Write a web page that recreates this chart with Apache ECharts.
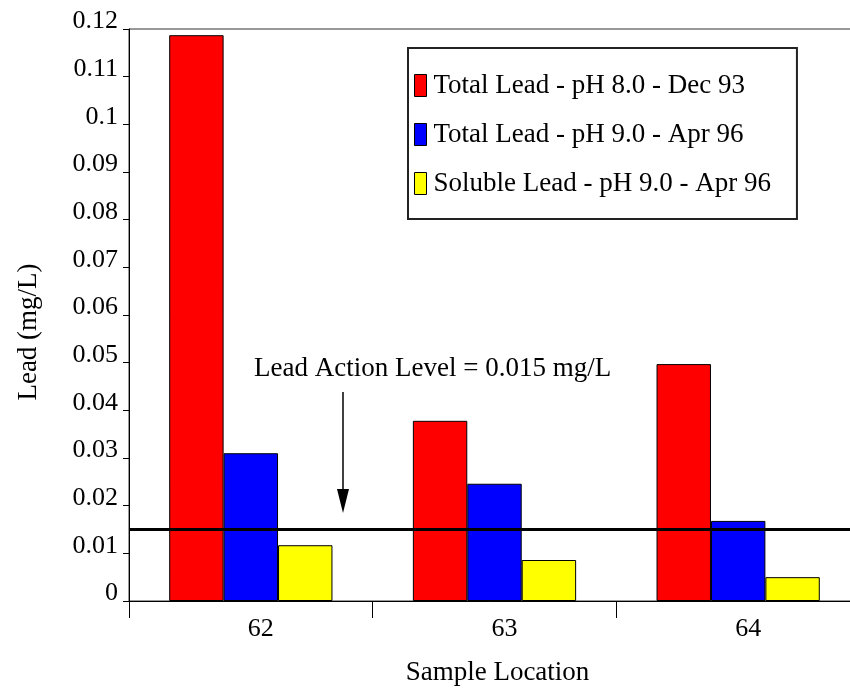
<!DOCTYPE html>
<html>
<head>
<meta charset="utf-8">
<script src="https://cdn.jsdelivr.net/npm/echarts@6/dist/echarts.min.js"></script>
<style>
html,body{margin:0;padding:0;background:#fff;}
#chart{width:850px;height:691px;}
</style>
</head>
<body>
<div id="chart"></div>
<script>
var categories = ['62', '63', '64'];
var seriesNames = ['Total Lead - pH 8.0 - Dec 93', 'Total Lead - pH 9.0 - Apr 96', 'Soluble Lead - pH 9.0 - Apr 96'];
var totalLeadDec93 = [0.1187, 0.0378, 0.0497];
var totalLeadApr96 = [0.0310, 0.0246, 0.0168];
var solubleLeadApr96 = [0.0117, 0.0086, 0.0050];
var actionLevel = 0.015;
var seriesColors = ['#ff0000', '#0000ff', '#ffff00'];

var FONT = 'Liberation Serif';
var chart = echarts.init(document.getElementById('chart'), null, {renderer: 'canvas'});

function barSeries(name, data, color, extra) {
  var s = {
    name: name,
    type: 'bar',
    data: data,
    barGap: '0%',
    barCategoryGap: '33%',
    itemStyle: {color: color, borderColor: '#000', borderWidth: 1},
    emphasis: {disabled: true}
  };
  if (extra) { for (var k in extra) s[k] = extra[k]; }
  return s;
}

var option = {
  animation: false,
  backgroundColor: '#fff',
  grid: {left: 129, top: 29, width: 731, bottom: 90, outerBoundsMode: 'none', containLabel: false, show: true, borderColor: '#333', borderWidth: 1},
  legend: {
    orient: 'vertical',
    left: 408,
    top: 48,
    padding: [24, 26, 22, 6],
    itemGap: 22,
    itemWidth: 12,
    itemHeight: 22,
    icon: 'rect',
    selectedMode: false,
    borderColor: '#222',
    borderWidth: 2,
    backgroundColor: '#fff',
    itemStyle: {borderColor: '#000', borderWidth: 1},
    textStyle: {fontFamily: FONT, fontSize: 27, color: '#000', lineHeight: 22, padding: [0, 0, 0, 2]},
    data: seriesNames
  },
  xAxis: {
    type: 'category',
    data: categories,
    name: 'Sample Location',
    nameLocation: 'middle',
    nameGap: 58,
    nameTextStyle: {fontFamily: FONT, fontSize: 27, color: '#000', padding: [0, 0, 0, 6]},
    axisLine: {lineStyle: {color: '#000', width: 1}},
    axisTick: {show: true, length: 17, inside: false, lineStyle: {color: '#000', width: 1}},
    axisLabel: {fontFamily: FONT, fontSize: 26, color: '#000', margin: 15, padding: [0, 0, 0, 20]},
    splitLine: {show: false}
  },
  yAxis: {
    type: 'value',
    min: 0,
    max: 0.12,
    interval: 0.01,
    axisLine: {show: true, lineStyle: {color: '#000', width: 1}},
    axisTick: {show: true, length: 6, inside: false, lineStyle: {color: '#000', width: 1}},
    axisLabel: {
      fontFamily: FONT, fontSize: 26, color: '#000', margin: 11,
      verticalAlign: 'bottom', lineHeight: 15,
      formatter: function (v) { return String(+v.toFixed(2)); }
    },
    splitLine: {show: false}
  },
  series: [
    barSeries(seriesNames[0], totalLeadDec93, seriesColors[0], {
      markLine: {
        silent: true,
        precision: 4,
        symbol: ['none', 'none'],
        label: {show: false},
        lineStyle: {color: '#000', width: 3, type: 'solid'},
        data: [{yAxis: actionLevel}]
      }
    }),
    barSeries(seriesNames[1], totalLeadApr96, seriesColors[1]),
    barSeries(seriesNames[2], solubleLeadApr96, seriesColors[2])
  ],
  graphic: [
    {
      type: 'text',
      x: 29, y: 332,
      rotation: Math.PI / 2,
      style: {text: 'Lead (mg/L)', fontFamily: FONT, fontSize: 27, fill: '#000', textAlign: 'center', textVerticalAlign: 'middle'}
    },
    {
      type: 'text',
      x: 254, y: 369,
      style: {text: 'Lead Action Level = 0.015 mg/L', fontFamily: FONT, fontSize: 27, fill: '#000', textAlign: 'left', textVerticalAlign: 'middle'}
    },
    {
      type: 'line',
      shape: {x1: 343, y1: 392, x2: 343, y2: 495},
      style: {stroke: '#000', lineWidth: 1.5}
    },
    {
      type: 'polygon',
      shape: {points: [[337, 489], [349, 489], [343, 513]]},
      style: {fill: '#000'}
    }
  ]
};
chart.setOption(option);
</script>
</body>
</html>
